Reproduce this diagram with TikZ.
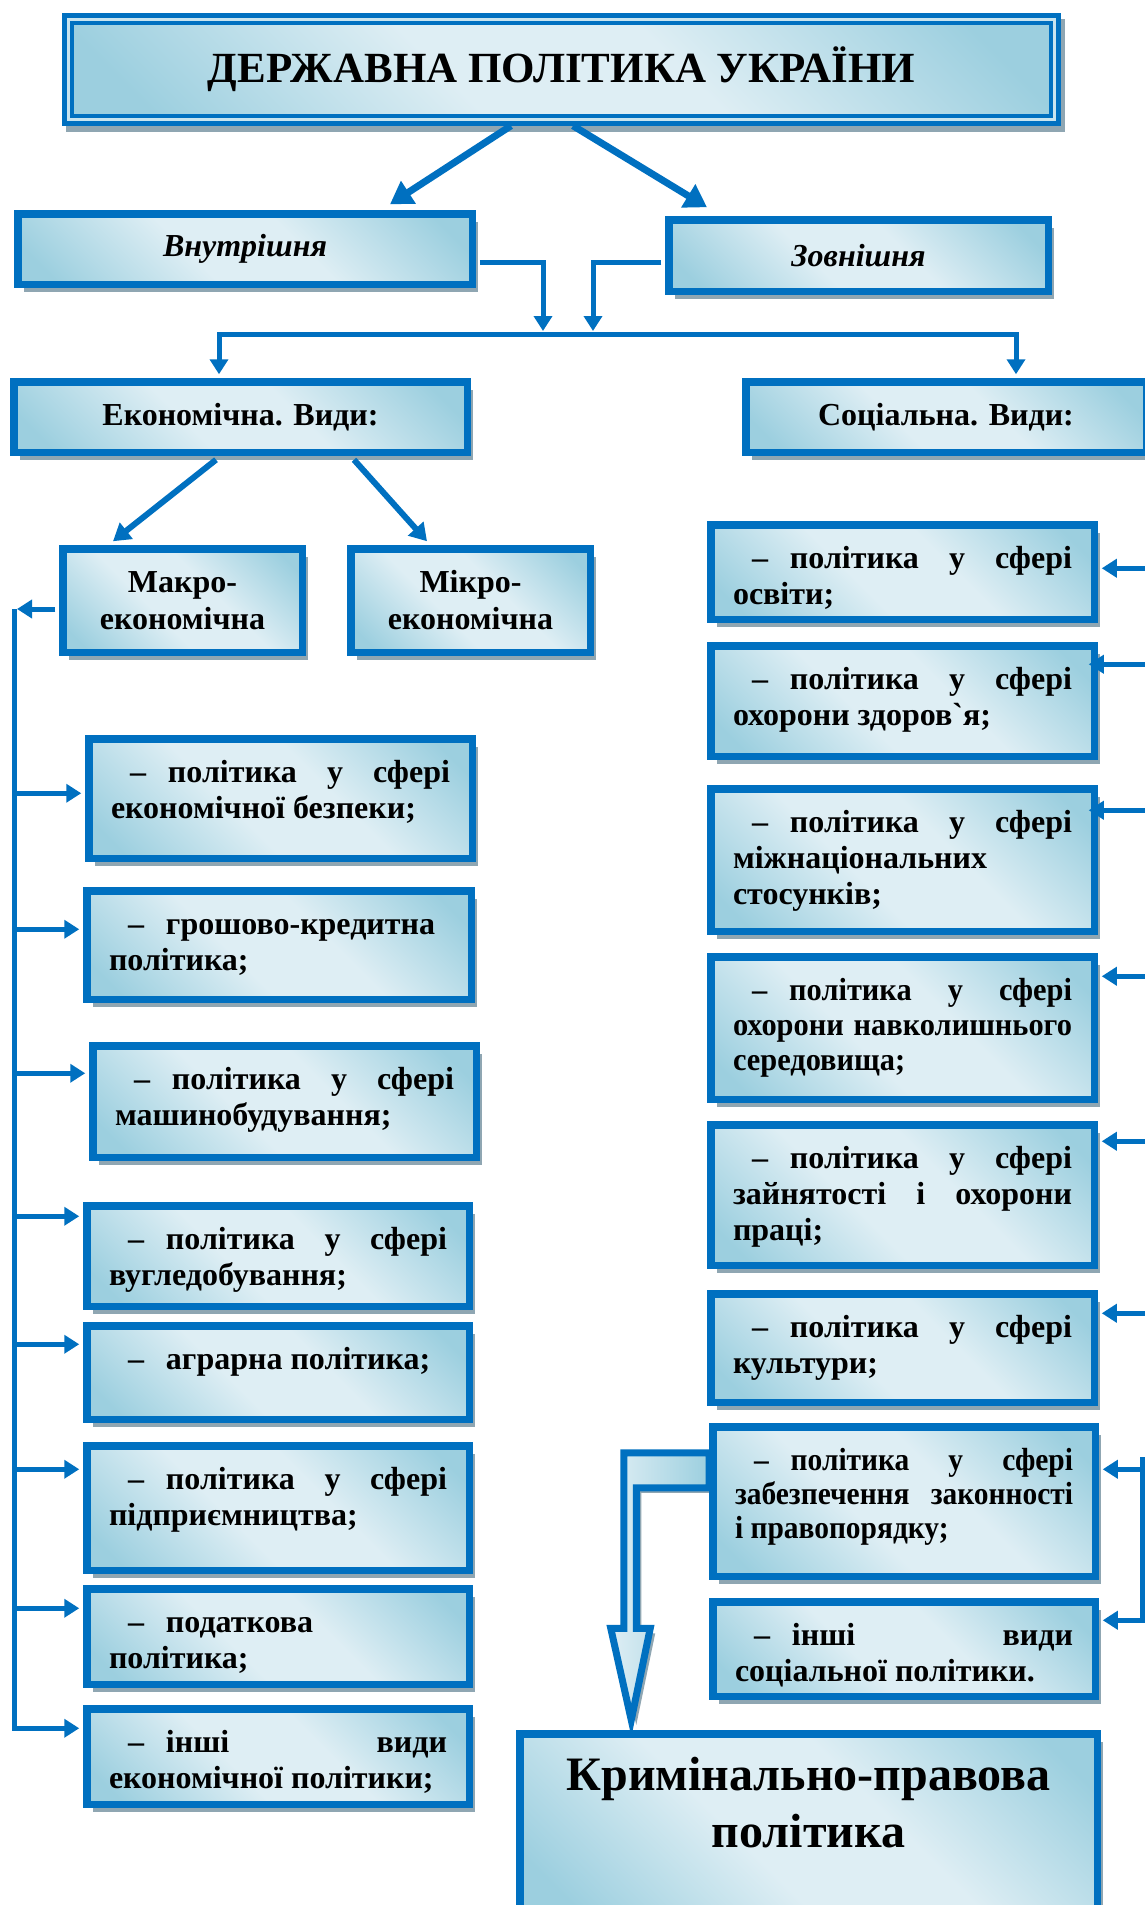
\documentclass[tikz,border=0pt]{standalone}
\usepackage{fontspec}
\setmainfont{Liberation Serif}
\newfontfamily\lsf{Liberation Serif}
\newfontfamily\lsfc{Liberation Serif}[FakeStretch=0.92]
\newfontfamily\lsfd{Liberation Serif}[FakeStretch=0.95]
\usetikzlibrary{arrows.meta,calc,shadows}
\definecolor{bblue}{RGB}{0,112,192}
\definecolor{gdark}{RGB}{156,207,223}
\definecolor{glight}{RGB}{222,238,244}
\definecolor{shgray}{RGB}{143,166,178}
\definecolor{stripe}{RGB}{200,228,239}
\pgfdeclarehorizontalshading{boxgrad}{100bp}{color(0bp)=(gdark); color(20bp)=(gdark); color(42bp)=(glight); color(58bp)=(glight); color(80bp)=(gdark); color(100bp)=(gdark)}
\pgfdeclarelayer{bg}\pgfsetlayers{bg,main}
\newcommand\lf{\lsf\fontsize{32}{36}\selectfont\bfseries}
\newcommand\hf{\lsf\fontsize{32}{37}\selectfont\bfseries}
\newcommand\hfi{\lsf\fontsize{32}{37}\selectfont\bfseries\itshape}
\newcommand\dsh{\hspace*{19pt}–\hspace{22pt}}
\tikzset{
  box/.style={draw=bblue, line width=7.5pt, shade, shading=boxgrad, shading angle=45, inner sep=0pt,
    drop shadow={shadow xshift=6pt, shadow yshift=-8pt, fill=shgray, opacity=1}},
  conn/.style={draw=bblue, line width=5pt},
  arr/.style={-{Triangle[length=15pt,width=18pt]}},
  bigarr/.style={draw=bblue, line width=7pt, -{Triangle[length=22pt,width=26pt]}},
  midarr/.style={draw=bblue, line width=6pt, -{Triangle[length=17pt,width=20pt]}},
}
% list box: [font]{name}{x1}{y1}{x2}{y2}{text}
\newcommand\lbox[7][\lf]{%
  \pgfmathsetmacro\bxcx{(#3+#5)/2}\pgfmathsetmacro\bxcy{(#4+#6)/2}%
  \pgfmathsetmacro\bxw{#5-#3-7.5}\pgfmathsetmacro\bxh{#6-#4-7.5}%
  \pgfmathsetmacro\bxtw{#5-#3-52}\pgfmathsetmacro\bxth{#6-#4-42}%
  \node[box, minimum width=\bxw pt, minimum height=\bxh pt] (#2) at (\bxcx,\bxcy)
    {\parbox[c][\bxth pt][t]{\bxtw pt}{#1\rule{0pt}{26pt}#7}};}
% centred box
\newcommand\cbox[7][\hf]{%
  \pgfmathsetmacro\bxcx{(#3+#5)/2}\pgfmathsetmacro\bxcy{(#4+#6)/2}%
  \pgfmathsetmacro\bxw{#5-#3-7.5}\pgfmathsetmacro\bxh{#6-#4-7.5}%
  \node[box, minimum width=\bxw pt, minimum height=\bxh pt, align=center, font=#1] (#2) at (\bxcx,\bxcy) {#7};}
\begin{document}
\begin{tikzpicture}[x=1pt,y=-1pt]
\useasboundingbox (0,0) rectangle (1144,1905);

% title
\fill[shgray] (66,19) rectangle (1065,132);
\draw[bblue, line width=5pt, fill=stripe] (64.5,15.5) rectangle (1058.5,123.5);
\node[draw=bblue, line width=3.5pt, shade, shading=boxgrad, shading angle=45,
  minimum width=979pt, minimum height=93pt, inner sep=0pt,
  font=\lsf\fontsize{43}{48}\selectfont\bfseries] (title) at (561.5,69.5) {ДЕРЖАВНА ПОЛІТИКА УКРАЇНИ};

% level boxes
\cbox[\hfi]{vn}{14}{210}{476}{288}{Внутрішня}
\cbox[\hfi]{zv}{665}{216}{1052}{295}{Зовнішня}
\cbox{ec}{10}{378}{471}{456}{Економічна. Види:}
\cbox{sc}{742}{378}{1150}{456}{Соціальна. Види:}
\cbox{mac}{59}{545}{306}{656}{Макро-\\економічна}
\cbox{mic}{347}{545}{594}{656}{Мікро-\\економічна}

% economic list
\lbox{e1}{85}{735}{476}{862}{\dsh політика у сфері\linebreak економічної безпеки;}
\lbox{e2}{83}{887}{475}{1003}{\dsh грошово-кредитна\\політика;}
\lbox{e3}{89}{1042}{480}{1161}{\dsh політика у сфері\linebreak машинобудування;}
\lbox{e4}{83}{1202}{473}{1310}{\dsh політика у сфері\linebreak вугледобування;}
\lbox{e5}{83}{1322}{473}{1423}{\dsh аграрна політика;}
\lbox{e6}{83}{1442}{473}{1574}{\dsh політика у сфері\linebreak підприємництва;}
\lbox{e7}{83}{1585}{473}{1688}{\dsh податкова\\політика;}
\lbox{e8}{83}{1705}{473}{1808}{\dsh інші види\linebreak економічної політики;}

% social list
\lbox{s1}{707}{521}{1098}{623}{\dsh політика у сфері\linebreak освіти;}
\lbox{s2}{707}{642}{1098}{760}{\dsh політика у сфері\linebreak охорони здоров`я;}
\lbox{s3}{707}{785}{1098}{935}{\dsh політика у сфері\linebreak міжнаціональних\\стосунків;}
\lbox[\lsfd\fontsize{32}{35}\selectfont\bfseries]{s4}{707}{953}{1098}{1103}{\dsh політика у сфері\linebreak охорони навколишнього\linebreak середовища;}
\lbox{s5}{707}{1121}{1098}{1269}{\dsh політика у сфері\linebreak зайнятості і охорони\linebreak праці;}
\lbox{s6}{707}{1290}{1098}{1406}{\dsh політика у сфері\linebreak культури;}
\lbox[\lsfc\fontsize{32}{34}\selectfont\bfseries]{s7}{709}{1423}{1099}{1580}{\dsh політика у сфері\linebreak забезпечення законності\linebreak і правопорядку;}
\lbox{s8}{709}{1598}{1099}{1700}{\dsh інші види\linebreak соціальної політики.}

% criminal-law policy
\lbox[\centering\lsf\fontsize{48}{57}\selectfont\bfseries]{cr}{516}{1730}{1101}{1915}{\rule{0pt}{39pt}Кримінально-правова\\політика}

% hollow bent arrow
\begin{pgfonlayer}{bg}
\draw[bblue, line width=7pt, line join=miter, left color=glight, right color=gdark,
  drop shadow={shadow xshift=5pt, shadow yshift=-5pt, fill=shgray, opacity=1},
  shift={(s7.north west)}]
  (0,29.75) -- (-85.25,29.75) -- (-85.25,205.25) -- (-98.25,205.25) -- (-77.75,297)
  -- (-58.75,205.25) -- (-72.75,205.25) -- (-72.75,64.75) -- (0,64.75) -- cycle;
\end{pgfonlayer}

% title arrows
\draw[bigarr] ($(title.south)+(-50.5,8)$) -- ($(vn.north)+(145,-5.75)$);
\draw[bigarr] ($(title.south)+(11.5,8)$) -- ($(zv.north)+(-151.5,-8.75)$);

% internal/external to the bar
\coordinate (j1) at (543,331);
\coordinate (j2) at (593,331);
\coordinate (barL) at (219,334);
\coordinate (barR) at (1016,334);
\draw[conn,arr] ($(vn.east)+(3.75,13)$) -| (j1);
\draw[conn,arr] ($(zv.west)+(-3.75,6.5)$) -| (j2);
\coordinate (ect) at ($(barL |- ec.north)+(0,-3.75)$);
\coordinate (sct) at ($(barR |- sc.north)+(0,-3.75)$);
\draw[conn, {Triangle[length=15pt,width=18pt]}-{Triangle[length=15pt,width=18pt]}] (ect) -- (barL) -- (barR) -- (sct);

% economic to macro / micro
\draw[midarr] ($(ec.south)+(-24.5,3.75)$) -- ($(mac.north)+(-69.5,-3.75)$);
\draw[midarr] ($(ec.south)+(113.5,3.75)$) -- ($(mic.north)+(-43.5,-3.75)$);

% left column connectors
\coordinate (lv) at (14.5,609);
\coordinate (lvt) at (17,609);
\draw[conn,arr] ($(mac.west)+(-3.75,8.5)$) -- (lvt);
\coordinate (a1) at ($(e1.north west)+(-3.75,58.25)$);
\coordinate (a2) at ($(e2.north west)+(-3.75,42.25)$);
\coordinate (a3) at ($(e3.north west)+(-3.75,31.25)$);
\coordinate (a4) at ($(e4.north west)+(-3.75,14.25)$);
\coordinate (a5) at ($(e5.north west)+(-3.75,22.25)$);
\coordinate (a6) at ($(e6.north west)+(-3.75,27.25)$);
\coordinate (a7) at ($(e7.north west)+(-3.75,23.25)$);
\coordinate (a8) at ($(e8.north west)+(-3.75,23.25)$);
\draw[conn,arr] (lv) -- (lv |- a8) -- (a8);
\foreach \i in {1,...,7} { \draw[conn,arr] (lv |- a\i) -- (a\i); }

% right column connectors
\coordinate (rv) at (1150,0);
\coordinate (b1) at ($(s1.north east)+(3.75,47.25)$);
\coordinate (b2) at ($(s2.north east)+(-9.25,22.25)$);
\coordinate (b3) at ($(s3.north east)+(-9.25,25.25)$);
\coordinate (b4) at ($(s4.north east)+(3.75,23.25)$);
\coordinate (b5) at ($(s5.north east)+(3.75,20.25)$);
\coordinate (b6) at ($(s6.north east)+(3.75,23.25)$);
\coordinate (b7) at ($(s7.north east)+(3.75,46.25)$);
\coordinate (b8) at ($(s8.north east)+(3.75,22.25)$);
\coordinate (rtop) at (1142,1457);
\draw[conn] (rtop) -- (rtop |- b8);
\foreach \i in {1,...,8} { \draw[conn,arr] (rv |- b\i) -- (b\i); }
\end{tikzpicture}
\end{document}
